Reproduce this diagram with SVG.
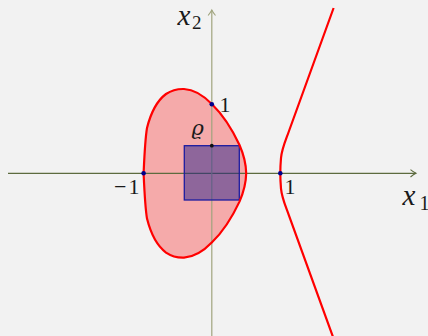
<svg xmlns="http://www.w3.org/2000/svg" width="428" height="336" viewBox="0 0 428 336">
<style>
.curve{fill:none;stroke:#ff0000;stroke-width:2.2;stroke-linejoin:round}
.dot{fill:#00008b}
</style>
<defs>
<marker id="arrH" markerWidth="10" markerHeight="10" refX="7" refY="5" orient="auto" markerUnits="userSpaceOnUse">
<path d="M1.5,1.3 Q4.5,3.8 7,5 Q4.5,6.2 1.5,8.7" fill="none" stroke="#5d6b3f" stroke-width="1.1"/>
</marker>
<marker id="arrV" markerWidth="10" markerHeight="10" refX="7" refY="5" orient="auto" markerUnits="userSpaceOnUse">
<path d="M1.5,1.3 Q4.5,3.8 7,5 Q4.5,6.2 1.5,8.7" fill="none" stroke="#a0a47e" stroke-width="1.1"/>
</marker>
</defs>
<rect width="428" height="336" fill="#f2f2f2"/>
<g id="oval-fill">
<path d="M143.6,173.3 C144.2,160 145,140 147,128 C151,112 158,100 166,94 C172,90 178,88.8 184,89 C195,89.5 205,97 212,104.3 C222,114 232,129 239.5,145 C243,153 246,163 246.2,173.3 C246,183.6 243,193.6 239.5,201.6 C232,217.6 222,232.6 212,242.3 C205,249.6 195,257.1 184,257.6 C178,257.8 172,256.6 166,252.6 C158,246.6 151,234.6 147,218.6 C145,206.6 144.2,186.6 143.6,173.3 Z" fill="#f5aaaa"/>
</g>
<g id="axes">
<line x1="8" y1="173.3" x2="416" y2="173.3" stroke="#5d6b3f" stroke-width="1.2" marker-end="url(#arrH)"/>
<line x1="211.8" y1="336" x2="211.8" y2="10" stroke="#a0a47e" stroke-width="1.2" marker-end="url(#arrV)"/>
</g>
<g id="square">
<rect x="184.3" y="145.7" width="55" height="54.3" fill="#28228c" fill-opacity="0.5" stroke="#1c1ca0" stroke-width="1.3"/>
</g>
<g id="connectors">
<path class="curve" d="M143.6,173.3 C144.2,160 145,140 147,128 C151,112 158,100 166,94 C172,90 178,88.8 184,89 C195,89.5 205,97 212,104.3 C222,114 232,129 239.5,145 C243,153 246,163 246.2,173.3 C246,183.6 243,193.6 239.5,201.6 C232,217.6 222,232.6 212,242.3 C205,249.6 195,257.1 184,257.6 C178,257.8 172,256.6 166,252.6 C158,246.6 151,234.6 147,218.6 C145,206.6 144.2,186.6 143.6,173.3 Z"/>
<path class="curve" d="M333.6,8 L289,131 C285.5,141 282,148 281,158 C280.5,164 280.3,169 280.3,173.3 C280.3,177.6 280.5,182.6 281,188.6 C282,198.6 285.5,205.6 289,215.6 L333.6,338.6"/>
</g>
<g id="points">
<circle class="dot" cx="143.6" cy="173.3" r="2.3"/>
<circle class="dot" cx="280.3" cy="173.3" r="2.3"/>
<circle class="dot" cx="211.8" cy="104.3" r="2.3"/>
<circle cx="211.8" cy="145.7" r="1.9" fill="#111"/>
</g>
<g id="labels" font-family="'Liberation Serif', 'Times New Roman', serif" fill="#1a1a1a">
<text x="402.5" y="205" font-size="29" font-style="italic">x</text>
<text x="419.5" y="210" font-size="20">1</text>
<text x="177.5" y="24.5" font-size="29" font-style="italic">x</text>
<text x="192" y="29" font-size="19">2</text>
<text x="219.5" y="111.7" font-size="22">1</text>
<text x="284.5" y="193.5" font-size="22">1</text>
<text x="114" y="194" font-size="22">−<tspan dx="2">1</tspan></text>
<text x="191.5" y="135" font-size="21" font-style="italic" font-family="'DejaVu Serif', serif">ϱ</text>
</g>
</svg>
